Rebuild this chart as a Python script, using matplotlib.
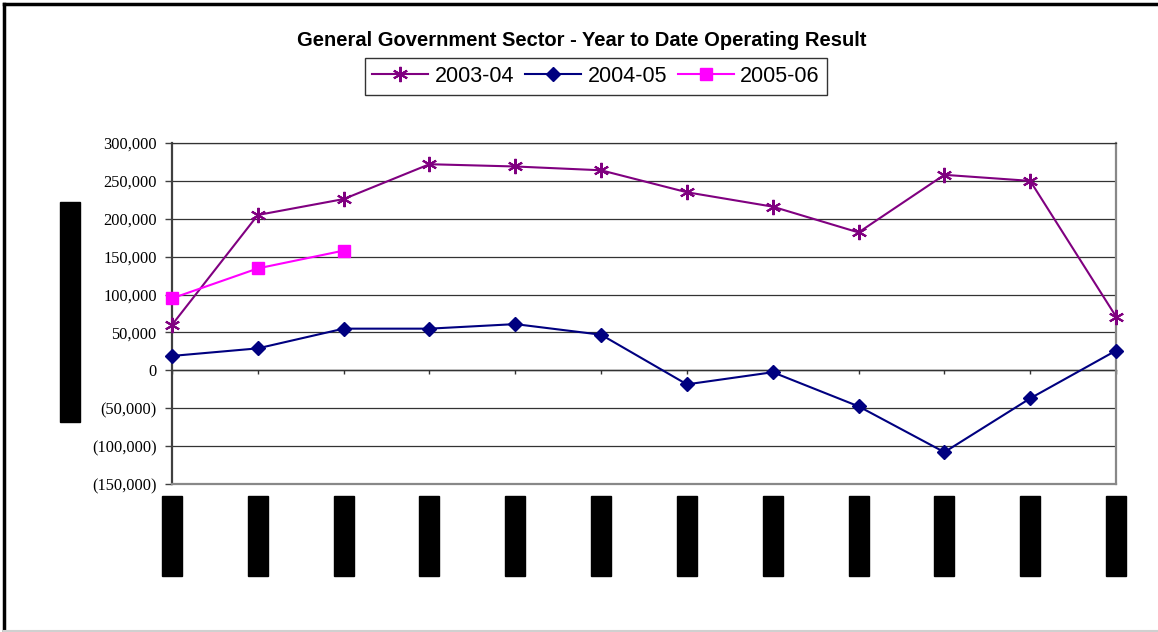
import matplotlib
matplotlib.use("Agg")
import matplotlib.pyplot as plt
from matplotlib.path import Path
from matplotlib.ticker import FuncFormatter, FixedLocator
from matplotlib.lines import Line2D

# ---------------- data ----------------
months = ["Jul", "Aug", "Sep", "Oct", "Nov", "Dec",
          "Jan", "Feb", "Mar", "Apr", "May", "Jun"]
series_2003_04 = [60000, 205000, 226000, 272000, 269000, 264000,
                  235000, 216000, 182000, 258000, 250000, 71000]
series_2004_05 = [19000, 29000, 55000, 55000, 61000, 47000,
                  -18500, -2500, -47500, -108000, -37000, 26000]
series_2005_06 = [95000, 134500, 158000]
y_ticks = [-150000, -100000, -50000, 0, 50000, 100000, 150000, 200000, 250000, 300000]
title_text = "General Government Sector - Year to Date Operating Result"
y_label_text = "Operating Result ($'000)"

W, H = 1158, 632
fig = plt.figure(figsize=(W / 100, H / 100), dpi=100)
fig.patch.set_facecolor("white")

ax = fig.add_axes([172 / W, 1 - 484 / H, (1116 - 172) / W, (484 - 143) / H])
ax.set_xlim(0, len(months) - 1)
ax.set_ylim(y_ticks[0], y_ticks[-1])

x_all = list(range(len(months)))
ax.plot(x_all, series_2003_04, color="#800080", lw=1.5, marker=(6, 2, 0),
        markersize=11, markeredgewidth=1.5, label="2003-04", zorder=4, clip_on=False)
ax.plot(x_all, series_2004_05, color="#000080", lw=1.5, marker="D",
        markersize=7.5, label="2004-05", zorder=4, clip_on=False)
ax.plot(x_all[:len(series_2005_06)], series_2005_06, color="#FF00FF", lw=1.5,
        marker="s", markersize=9, label="2005-06", zorder=5, clip_on=False)

# grid
ax.set_yticks(y_ticks)
ax.yaxis.set_major_formatter(FuncFormatter(
    lambda v, p: "0" if v == 0 else (f"({abs(int(v)):,})" if v < 0 else f"{int(v):,}")))
for v in y_ticks[1:]:
    ax.axhline(v, color="#333333", lw=0.9, zorder=1)
ax.tick_params(axis="y", direction="out", length=5, width=1, color="#404040",
               labelsize=11.8, pad=6)
for lab in ax.get_yticklabels():
    lab.set_fontfamily("Liberation Serif")

ax.spines["left"].set_color("#404040")
ax.spines["left"].set_linewidth(1.6)
ax.spines["right"].set_color("#888888")
ax.spines["right"].set_linewidth(1.6)
ax.spines["bottom"].set_color("#888888")
ax.spines["bottom"].set_linewidth(1.6)
ax.spines["top"].set_color("#333333")
ax.spines["top"].set_linewidth(0.9)

# zero axis with small ticks
sec = ax.secondary_xaxis((0 - y_ticks[0]) / (y_ticks[-1] - y_ticks[0]))
sec.xaxis.set_major_locator(FixedLocator(x_all))
sec.tick_params(direction="out", length=3, width=1, color="#333333", labelbottom=False)
sec.spines["bottom"].set_color("#222222")
sec.spines["bottom"].set_linewidth(1.0)


# x labels rendered as solid black boxes (as in the reference)
def tick_box(x0, y0, width, height, mutation_size):
    top = x0 + width + 2
    cy = y0 + height / 2
    L, Wd = 80, 20
    verts = [(top - L, cy - Wd / 2), (top, cy - Wd / 2), (top, cy + Wd / 2),
             (top - L, cy + Wd / 2), (top - L, cy - Wd / 2)]
    return Path(verts, closed=True)


def ylab_box(x0, y0, width, height, mutation_size):
    cx = x0 + width / 2
    cy = y0 + height / 2
    L, Wd = 220, 20
    verts = [(cx - L / 2, cy - Wd / 2), (cx + L / 2, cy - Wd / 2), (cx + L / 2, cy + Wd / 2),
             (cx - L / 2, cy + Wd / 2), (cx - L / 2, cy - Wd / 2)]
    return Path(verts, closed=True)


ax.set_xticks(x_all)
ax.set_xticklabels(months, rotation=90, fontsize=9, color="black")
ax.tick_params(axis="x", length=0, pad=10)
for lab in ax.get_xticklabels():
    lab.set_bbox(dict(boxstyle=tick_box, facecolor="black", edgecolor="black"))

fig.text(70 / W, 1 - 312 / H, y_label_text, rotation=90, ha="center", va="center",
         fontsize=9, color="black",
         bbox=dict(boxstyle=ylab_box, facecolor="black", edgecolor="black"))

# title
fig.text(582 / W, 1 - 41 / H, title_text, ha="center", va="center",
         fontsize=14.5, fontweight="bold", family="Liberation Sans")

# legend
handles, labels = ax.get_legend_handles_labels()
leg = fig.legend(handles, labels, loc="center", bbox_to_anchor=(596 / W, 1 - 76.5 / H),
                 ncol=3, frameon=True, fancybox=False, edgecolor="black",
                 prop={"family": "Liberation Sans", "size": 15.5},
                 handlelength=2.6, handletextpad=0.3, columnspacing=0.5,
                 borderpad=0.35, borderaxespad=0)
leg.get_frame().set_linewidth(1.0)

# figure border
fig.add_artist(Line2D([4 / W, 4 / W], [0, 1 - 4 / H], transform=fig.transFigure,
                      color="black", lw=2.5))
fig.add_artist(Line2D([4 / W, 1], [1 - 4 / H, 1 - 4 / H], transform=fig.transFigure,
                      color="black", lw=2.5))
fig.add_artist(Line2D([4 / W, 1], [1.2 / H, 1.2 / H], transform=fig.transFigure,
                      color="#d0d0d0", lw=1.5))

fig.savefig("out.png", dpi=100)
